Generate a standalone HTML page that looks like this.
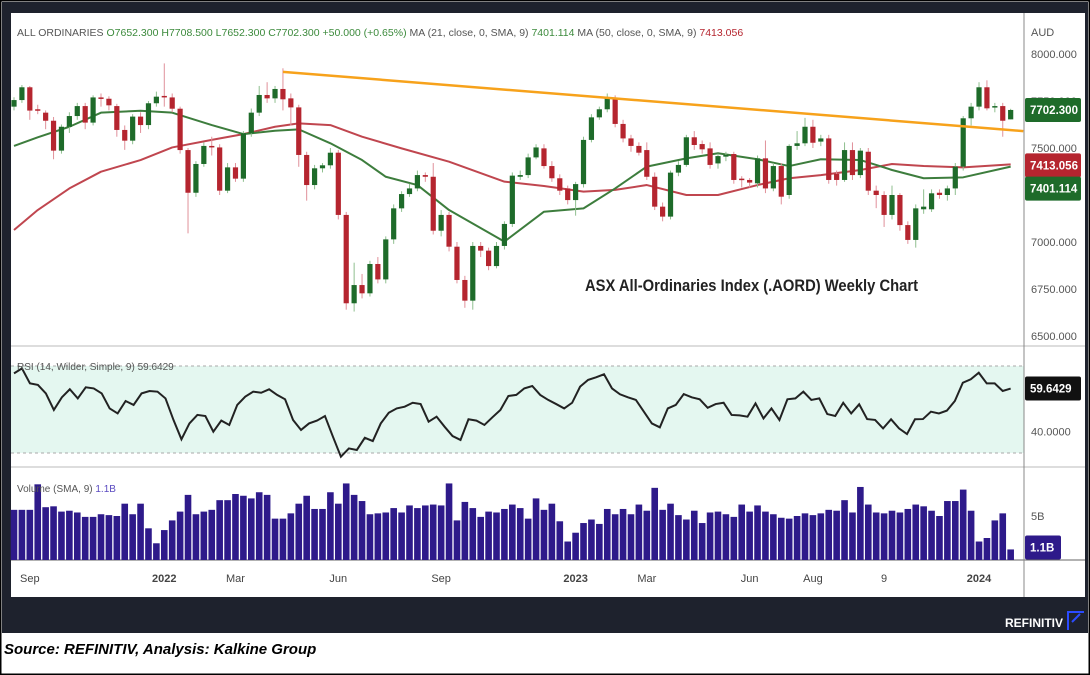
<!DOCTYPE html>
<html><head><meta charset="utf-8">
<style>
html,body{margin:0;padding:0;background:#fff;}
svg{display:block;font-family:"Liberation Sans",sans-serif;}
</style></head>
<body>
<svg id="chart" width="1090" height="675" viewBox="0 0 1090 675" xmlns="http://www.w3.org/2000/svg">
  <rect x="0" y="0" width="1090" height="675" fill="#fff" stroke="#000" stroke-width="3"/>
  <rect x="2" y="2" width="1086" height="631" fill="#1e222d"/>
  <rect x="11" y="13" width="1074" height="584" fill="#fff"/>
  <rect x="11" y="366" width="1013" height="87" fill="#e4f7f0"/>
  <line x1="11" y1="366" x2="1024" y2="366" stroke="#aaa" stroke-dasharray="3,3"/>
  <line x1="11" y1="453" x2="1024" y2="453" stroke="#aaa" stroke-dasharray="3,3"/>
  <line x1="11" y1="346" x2="1085" y2="346" stroke="#ddd" stroke-width="2"/>
  <line x1="11" y1="467" x2="1085" y2="467" stroke="#ddd" stroke-width="2"/>
  <line x1="11" y1="560" x2="1085" y2="560" stroke="#666"/>
  <line x1="1024" y1="13" x2="1024" y2="597" stroke="#888"/>
  <g id="marks"></g>
  <text x="17" y="36" font-size="10.5" fill="#555">ALL ORDINARIES <tspan fill="#3c8a3c">O7652.300  H7708.500  L7652.300  C7702.300  +50.000 (+0.65%)</tspan>   MA (21, close, 0, SMA, 9) <tspan fill="#3c8a3c">7401.114</tspan>   MA (50, close, 0, SMA, 9) <tspan fill="#b5252f">7413.056</tspan></text>
  <text x="1031" y="36" font-size="11" fill="#555">AUD</text>
  <text x="585" y="291" font-size="17" font-weight="bold" fill="#222" textLength="333" lengthAdjust="spacingAndGlyphs">ASX All-Ordinaries Index (.AORD) Weekly Chart</text>
  <text x="17" y="370" font-size="10" fill="#555">RSI (14, Wilder, Simple, 9) 59.6429</text>
  <text x="17" y="492" font-size="10" fill="#555">Volume (SMA, 9) <tspan fill="#5a4ac0">1.1B</tspan></text>
  <text x="1005" y="627" font-size="12" font-weight="bold" fill="#fff">REFINITIV</text>
  <path d="M1068 630 V612 H1084 M1072 622 L1080 614" stroke="#2b4bff" stroke-width="2" fill="none"/>
  <text x="4" y="654" font-size="15" font-weight="bold" font-style="italic" fill="#000">Source: REFINITIV, Analysis: Kalkine Group</text>
</svg>
<script>
const opens=[7720,7755,7823,7706,7688,7645,7486,7613,7670,7723,7635,7769,7762,7723,7596,7539,7667,7622,7738,7777,7769,7709,7489,7262,7415,7511,7503,7273,7397,7337,7578,7688,7782,7764,7814,7764,7716,7463,7303,7392,7408,7475,7144,6674,6771,6727,6883,6801,7014,7179,7255,7285,7356,7347,7060,7144,6975,6798,6688,6979,6954,6872,6979,7096,7347,7356,7450,7498,7404,7339,7285,7223,7308,7543,7663,7706,7764,7628,7551,7511,7489,7347,7188,7135,7369,7410,7557,7521,7498,7418,7454,7468,7337,7330,7312,7445,7285,7404,7250,7511,7525,7613,7534,7551,7362,7330,7489,7356,7480,7273,7250,7144,7250,7090,7011,7174,7174,7262,7250,7285,7401,7658,7720,7823,7716,7723,7652.3];
const closes=[7755,7823,7699,7699,7645,7486,7613,7670,7723,7635,7769,7762,7727,7596,7539,7667,7622,7738,7773,7769,7709,7489,7262,7415,7511,7503,7273,7397,7337,7578,7688,7782,7764,7814,7759,7716,7463,7303,7392,7408,7475,7144,6674,6771,6727,6883,6801,7014,7179,7255,7285,7356,7347,7060,7144,6975,6798,6688,6979,6954,6872,6979,7096,7353,7356,7450,7503,7404,7339,7273,7223,7308,7543,7663,7706,7764,7628,7551,7511,7475,7347,7188,7135,7369,7410,7557,7516,7493,7410,7457,7463,7330,7330,7316,7445,7285,7404,7241,7511,7525,7613,7528,7551,7330,7330,7489,7356,7486,7273,7250,7144,7250,7090,7011,7179,7188,7259,7250,7285,7401,7658,7720,7823,7711,7723,7645,7702.3];
const highs=[7770,7835,7830,7730,7700,7665,7625,7690,7740,7740,7780,7790,7775,7735,7620,7680,7690,7750,7800,7950,7790,7720,7500,7430,7530,7560,7520,7420,7420,7590,7710,7830,7850,7830,7924,7790,7730,7480,7410,7420,7500,7490,7160,6890,6830,6900,6920,7030,7200,7270,7310,7380,7370,7420,7170,7160,7000,6820,7000,7000,6970,7000,7110,7370,7380,7470,7520,7520,7430,7360,7300,7320,7560,7680,7720,7790,7780,7650,7570,7530,7530,7370,7210,7380,7430,7570,7590,7540,7530,7470,7480,7480,7350,7340,7460,7540,7420,7420,7520,7590,7660,7650,7570,7570,7380,7530,7530,7500,7500,7300,7270,7300,7260,7110,7200,7280,7280,7280,7300,7420,7670,7740,7850,7860,7740,7740,7708.5];
const lows=[7700,7740,7650,7680,7600,7440,7470,7580,7650,7600,7620,7720,7700,7560,7490,7520,7580,7600,7720,7720,7690,7470,7046,7240,7400,7460,7250,7260,7320,7320,7560,7670,7740,7740,7700,7620,7400,7220,7280,7370,7390,7120,6640,6630,6700,6710,6780,6780,6990,7160,7240,7270,7320,7040,7030,6950,6780,6650,6640,6920,6850,6860,6960,7080,7330,7340,7440,7390,7320,7250,7200,7140,7290,7530,7650,7690,7610,7530,7480,7460,7330,7170,7110,7120,7350,7400,7490,7470,7390,7390,7430,7310,7290,7290,7290,7260,7270,7200,7230,7490,7510,7500,7510,7310,7300,7320,7330,7340,7250,7180,7080,7120,7060,6990,6970,7150,7160,7230,7220,7250,7380,7620,7700,7700,7690,7560,7652.3];
const ma21Idx=[0,3,7,11,16,20,25,29,33,36,40,44,47,51,55,62,67,72,76,80,85,89,94,98,102,107,109,111,115,120,126];
const ma21Val=[7511,7557,7613,7688,7698,7688,7622,7574,7592,7599,7525,7436,7347,7303,7170,7002,7161,7179,7285,7401,7445,7472,7440,7404,7440,7436,7410,7383,7339,7344,7401];
const ma50Idx=[0,3,7,11,16,20,25,29,33,36,40,44,49,55,62,67,72,76,80,85,89,94,98,102,107,111,115,120,126];
const ma50Val=[7064,7170,7285,7374,7436,7503,7543,7574,7613,7631,7622,7560,7498,7427,7321,7298,7268,7277,7303,7250,7250,7303,7339,7356,7383,7415,7404,7397,7413];
const rsi=[66.6,68.9,62.0,61.3,57.4,49.8,55.6,59.3,55.1,60.2,59.7,57.4,50.5,48.2,53.9,52.1,57.4,58.5,58.2,55.1,45.2,36.3,43.6,47.5,47.0,39.8,44.9,42.9,52.1,55.9,58.2,57.7,59.3,56.7,54.7,45.2,40.6,43.6,44.9,47.0,37.5,28.3,32.1,31.4,37.0,35.5,43.6,48.5,50.5,51.3,53.1,52.5,44.4,46.7,42.1,37.8,36.0,45.5,44.9,42.9,46.4,49.8,56.2,56.7,59.7,60.8,56.7,54.4,52.5,50.5,53.1,60.5,63.6,64.8,66.2,59.7,57.0,55.6,54.4,49.0,43.6,41.8,50.5,52.1,57.1,55.6,54.7,50.8,52.5,53.1,47.5,47.3,46.7,52.8,45.9,50.5,45.2,54.7,55.1,58.2,54.4,55.1,47.9,47.0,53.1,48.2,52.4,45.6,45.2,41.3,45.5,41.3,38.7,45.5,45.6,49.0,48.2,49.5,53.9,62.3,63.9,66.9,62.0,62.0,58.5,59.6429];
const volume=[5.7,5.7,5.7,8.6,6.0,6.1,5.5,5.6,5.4,4.9,4.9,5.2,5.1,5.0,6.4,5.2,6.4,3.6,1.9,3.4,4.5,5.5,7.4,5.2,5.5,5.7,6.8,6.8,7.5,7.3,7.0,7.7,7.4,4.7,4.7,5.3,6.4,7.3,5.8,5.8,7.7,6.4,8.7,7.4,6.7,5.2,5.3,5.4,5.9,5.4,6.2,5.9,6.2,6.3,6.2,8.7,4.5,6.6,5.9,4.9,5.5,5.4,5.8,6.3,5.9,4.7,7.0,5.7,6.4,4.4,2.1,3.1,4.2,4.6,4.1,5.8,5.2,5.8,5.2,6.3,5.6,8.2,5.7,6.4,5.1,4.6,5.6,4.2,5.4,5.5,5.2,4.9,6.3,5.5,6.2,5.5,5.2,4.8,4.7,5.0,5.3,5.1,5.3,5.7,5.6,6.8,5.4,8.3,6.3,5.4,5.3,5.6,5.4,5.8,6.3,6.1,5.6,5.0,6.7,6.7,8.0,5.6,2.1,2.5,4.5,5.3,1.2];
const priceTicks=[8000,7750,7500,7250,7000,6750,6500];
const rsiTicks=[40];
const volTicks=[5];
const timeLabels=["Sep","2022","Mar","Jun","Sep","2023","Mar","Jun","Aug","9","2024"];
const timeLabelIdx=[2,19,28,41,54,71,80,93,101,110,122];
const trendStart={i:34,v:7905};
const trendEnd={i:127.6,v:7590};

const NS="http://www.w3.org/2000/svg";
const g=document.getElementById('marks');
const svg=document.getElementById('chart');
const X0=14, STEP=7.91;
const xAt=i=>X0+i*STEP;
const yP=v=>242-(v-7000)*0.188;
const yR=v=>453-(v-30)*2.175;
const yV=v=>560-v*8.8;
function mk(tag,attrs,parent){const e=document.createElementNS(NS,tag);for(const k in attrs)e.setAttribute(k,attrs[k]);(parent||g).appendChild(e);return e;}

volume.forEach((v,i)=>{
  const r=mk('rect',{x:xAt(i)-3.3,y:yV(v),width:6.6,height:v*8.8,fill:'#2e1a8a'});
  
  
});
const rStep=(xAt(opens.length-1)-X0)/(rsi.length-1);
const rl=mk('polyline',{points:rsi.map((v,i)=>(X0+i*rStep)+','+yR(v)).join(' '),fill:'none',stroke:'#222','stroke-width':2});


const m50=mk('polyline',{points:ma50Idx.map((ix,k)=>xAt(ix)+','+yP(ma50Val[k])).join(' '),fill:'none',stroke:'#c0464f','stroke-width':2,'stroke-linejoin':'round'});


const m21=mk('polyline',{points:ma21Idx.map((ix,k)=>xAt(ix)+','+yP(ma21Val[k])).join(' '),fill:'none',stroke:'#3d7d3d','stroke-width':2,'stroke-linejoin':'round'});


opens.forEach((o,i)=>{
  const c=closes[i], up=c>=o, x=xAt(i);
  const w=mk('line',{x1:x,x2:x,y1:yP(highs[i]),y2:yP(lows[i]),stroke:up?'#8fbf8f':'#e0909a','stroke-width':1});
  
  
  const top=yP(Math.max(o,c)), bot=yP(Math.min(o,c));
  const b=mk('rect',{x:x-2.6,y:top,width:5.2,height:Math.max(bot-top,1.5),fill:up?'#1e6b2a':'#b5252f'});
  
  
});
const tl=mk('line',{x1:xAt(trendStart.i),y1:yP(trendStart.v),x2:xAt(trendEnd.i),y2:yP(trendEnd.v),stroke:'#f7a21b','stroke-width':2.5});


priceTicks.forEach(v=>{
  const t=mk('text',{x:1031,y:yP(v)+4,'font-size':11,fill:'#555'},svg);
  t.textContent=v.toFixed(3);
  
  
});
rsiTicks.forEach(v=>{
  const t=mk('text',{x:1031,y:yR(v)+4,'font-size':11,fill:'#555'},svg);
  t.textContent=v.toFixed(4);
  
  
});
volTicks.forEach(v=>{
  const t=mk('text',{x:1031,y:yV(v)+4,'font-size':11,fill:'#555'},svg);
  t.textContent=v+'B';
  
  
});
function badge(name,y,txt,bg,w){
  const r=mk('rect',{x:1025,y:y-12,width:w,height:24,fill:bg,rx:2},svg);
  
  
  const t=mk('text',{x:1030,y:y+4,'font-size':11.5,'font-weight':'bold',fill:'#fff'},svg);
  t.textContent=txt;
  
  
}
badge('last-price-badge',yP(closes[closes.length-1]),closes[closes.length-1].toFixed(3),'#1e6b2a',56);
badge('ma50-badge',yP(ma50Val[ma50Val.length-1])+1,'7413.056','#b5252f',56);
badge('ma21-badge',yP(ma21Val[ma21Val.length-1])+22,'7401.114','#1e6b2a',56);
badge('rsi-badge',yR(rsi[rsi.length-1]),rsi[rsi.length-1].toFixed(4),'#111',56);
badge('volume-badge',yV(volume[volume.length-1])-2,'1.1B','#2e1a8a',36);
timeLabels.forEach((s,k)=>{
  const t=mk('text',{x:xAt(timeLabelIdx[k]),y:582,'font-size':11,fill:'#444','text-anchor':'middle','font-weight':/^\d{4}$/.test(s)?'bold':'normal'},svg);
  t.textContent=s;
  
  
});
</script>
</body></html>
